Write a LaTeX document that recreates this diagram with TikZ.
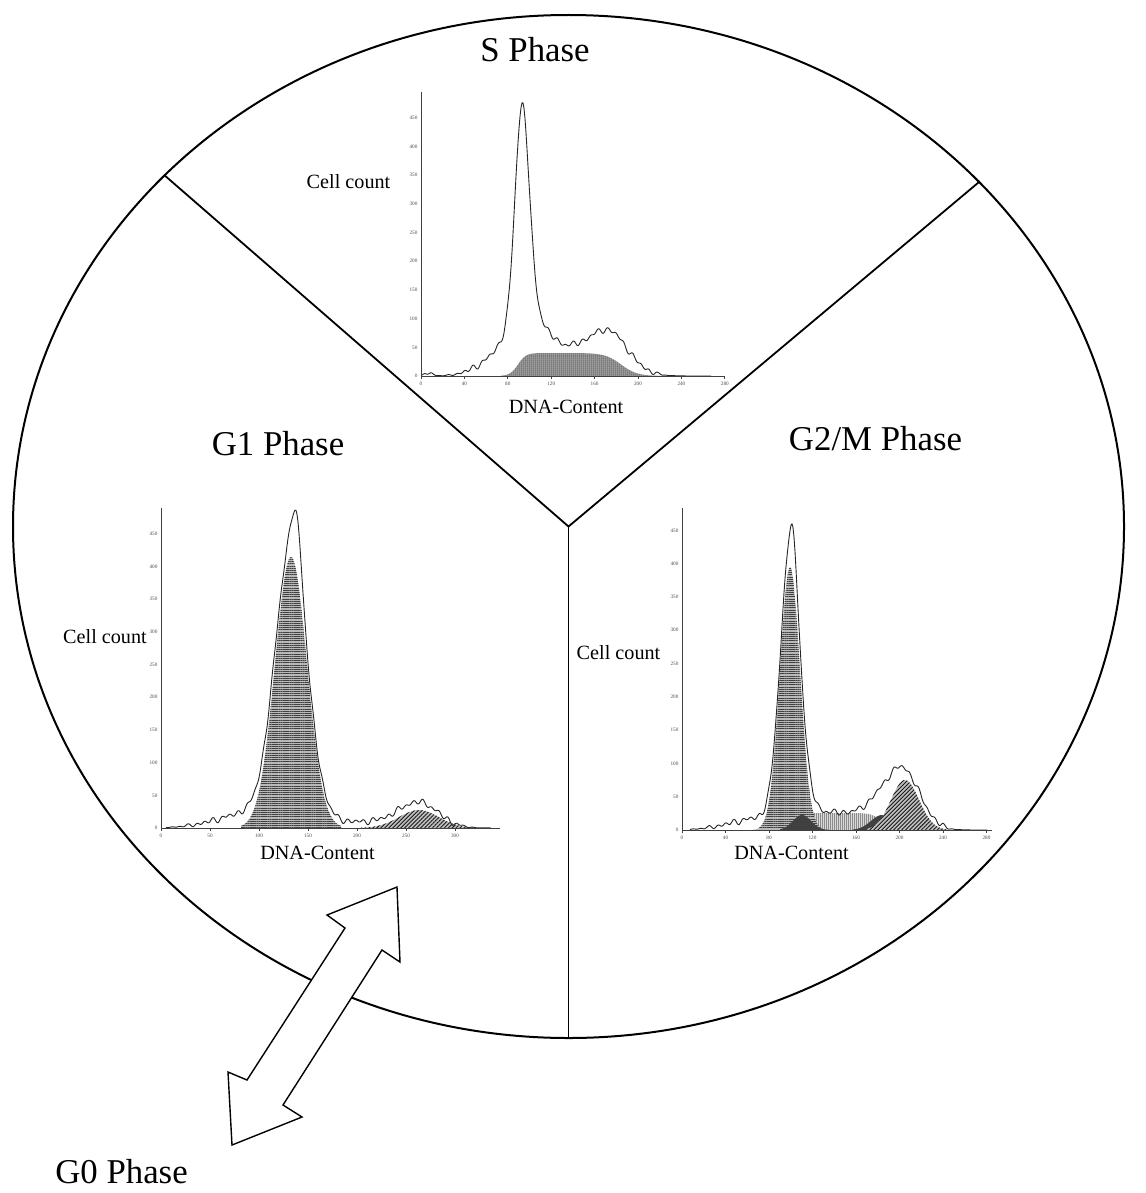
\documentclass[tikz,border=0pt]{standalone}
\usepackage{fontspec}
\setmainfont{Liberation Serif}
\usetikzlibrary{shapes.geometric,patterns.meta}

\begin{document}
\begin{tikzpicture}[
    x=0.5pt, y=-0.5pt,
    phase/.style={font=\fontsize{17.4}{20}\selectfont, anchor=base, inner sep=0},
    axlabel/.style={font=\fontsize{10.1}{12}\selectfont, anchor=base, inner sep=0},
    ticklab/.style={font=\fontsize{2.6}{3}\selectfont, inner sep=0.6pt, text=black!70},
    axis/.style={line width=0.35pt, black!75},
    trace/.style={line width=0.45pt, black!85, line join=round},
    divider/.style={line width=0.9pt},
    blockarrow/.style={draw, fill=white, line width=0.7pt},
    g1fill/.style={preaction={fill=gray!55}, pattern={Lines[angle=0, distance=1.1pt, line width=0.35pt]}, pattern color=black!75},
    sfill/.style={preaction={fill=gray!70}, pattern={Lines[angle=90, distance=0.9pt, line width=0.3pt]}, pattern color=black!85},
    g2fill/.style={preaction={fill=gray!50}, pattern={Lines[angle=45, distance=1.4pt, line width=0.45pt]}, pattern color=black!90},
    lightfill/.style={preaction={fill=gray!30}, pattern={Lines[angle=90, distance=1pt, line width=0.25pt]}, pattern color=black!45},
    darkfill/.style={fill=black!75},
    declare function={
      gs(\x,\m,\h,\s)=\h*exp(-min(0.5*((\x-\m)/\s)^2,12));
      rise(\x,\m,\s)=1/(1+exp(min(9,max(-9,(\m-\x)/\s))));
      jit(\x)=1.8*sin(\x*43)+1.2*sin(\x*29+40)+0.8*sin(\x*17+10);
      sfl(\x)=23*rise(\x,97,4)*(1-rise(\x,200,8));
      slin(\x)=1.2*sfl(\x)+gs(\x,101,200,7)+gs(\x,101,50,18)+gs(\x,68,10,18)+gs(\x,8,3,4)+gs(\x,192,24,20);
      gfl(\x)=gs(\x,130,271,16);
      ggt(\x)=gs(\x,258,18,20);
      glin(\x)=gfl(\x)+gs(\x,136,50,5)+gs(\x,95,16,35)+6*rise(\x,150,6)*(1-rise(\x,275,8))+1.15*ggt(\x);
      mfl(\x)=gs(\x,108,263,10);
      msp(\x)=17*rise(\x,105,4)*(1-rise(\x,200,5));
      mgt(\x)=gs(\x,223,50,14);
      mlin(\x)=mfl(\x)+gs(\x,111,27,3.5)+gs(\x,80,12,30)+msp(\x)+gs(\x,219,63,18);
    }
]
\useasboundingbox (0,0) rectangle (1145,1193);

% cell cycle wheel
\node[ellipse, draw, line width=1pt, minimum width=555.5pt, minimum height=511.5pt, inner sep=0] (cellcycle) at (568.5,526.5) {};
\draw[divider] (cellcycle.139.4) -- (cellcycle.center) -- (cellcycle.40.3);
\draw[divider] (cellcycle.center) -- (cellcycle.south);

% phase names
\node[phase] (sphase) at (535,62) {S Phase};
\node[phase] (g1phase) at (278,455) {G1 Phase};
\node[phase] (g2mphase) at (875.5,450) {G2/M Phase};
\node[phase] (g0phase) at (121.5,1183) {G0 Phase};

% S histogram
\begin{scope}[shift={(421,376)}, yscale=-1]
  \fill[sfill] (80,0) -- plot[domain=80:240, samples=161] (\x,{sfl(\x)}) -- (240,0) -- cycle;
  \draw[trace] plot[domain=0:290, samples=291] (\x,{slin(\x)+jit(\x)*min(1,slin(\x)/5)});
  \draw[axis] (0,284) -- (0,0) -- (304,0);
  \foreach \k [evaluate=\k as \v using int(\k*50)] in {0,...,9}
    \node[ticklab, anchor=east] (sy\k) at (-2,\k*28.7) {\v};
  \foreach \k [evaluate=\k as \v using int(\k*40)] in {0,...,7} {
    \draw[axis] (\k*43.4,0) -- (\k*43.4,-3);
    \node[ticklab, anchor=north] (sx\k) at (\k*43.4,-4) {\v};
  }
\end{scope}
\node[axlabel] (scount) at (348.5,188) {Cell count};
\node[axlabel] (sdna) at (566,413) {DNA-Content};

% G1 histogram
\begin{scope}[shift={(161,828)}, yscale=-1]
  \fill[g1fill] (80,0) -- plot[domain=80:180, samples=101] (\x,{gfl(\x)}) -- (180,0) -- cycle;
  \fill[g2fill] (200,0) -- plot[domain=200:315, samples=116] (\x,{ggt(\x)}) -- (315,0) -- cycle;
  \draw[trace] plot[domain=5:330, samples=326] (\x,{glin(\x)+jit(\x)*min(1,glin(\x)/5)});
  \draw[axis] (0,320) -- (0,0) -- (339,0);
  \foreach \k [evaluate=\k as \v using int(\k*50)] in {0,...,9}
    \node[ticklab, anchor=east] (gy\k) at (-2,\k*32.7) {\v};
  \foreach \k [evaluate=\k as \v using int(\k*50)] in {0,...,6} {
    \draw[axis] (\k*49,0) -- (\k*49,-3);
    \node[ticklab, anchor=north] (gx\k) at (\k*49,-4) {\v};
  }
\end{scope}
\node[axlabel] (g1count) at (105,643) {Cell count};
\node[axlabel] (g1dna) at (317.5,859) {DNA-Content};

% G2/M histogram
\begin{scope}[shift={(682,830)}, yscale=-1]
  \fill[lightfill] (90,0) -- plot[domain=90:215, samples=126] (\x,{msp(\x)}) -- (215,0) -- cycle;
  \fill[g1fill] (70,0) -- plot[domain=70:146, samples=77] (\x,{mfl(\x)}) -- (146,0) -- cycle;
  \fill[darkfill] (98,0) -- plot[domain=98:148, samples=51] (\x,{gs(\x,120,15,9)}) -- (148,0) -- cycle;
  \fill[darkfill] (170,0) -- plot[domain=170:235, samples=66] (\x,{gs(\x,200,15,11)}) -- (235,0) -- cycle;
  \fill[g2fill] (185,0) -- plot[domain=185:266, samples=82] (\x,{mgt(\x)}) -- (266,0) -- cycle;
  \draw[trace] plot[domain=8:305, samples=298] (\x,{mlin(\x)+jit(\x)*min(1,mlin(\x)/5)});
  \draw[axis] (0,322) -- (0,0) -- (310,0);
  \foreach \k [evaluate=\k as \v using int(\k*50)] in {0,...,9}
    \node[ticklab, anchor=east] (my\k) at (-2,\k*33.3) {\v};
  \foreach \k [evaluate=\k as \v using int(\k*40)] in {0,...,7} {
    \draw[axis] (\k*43.5,0) -- (\k*43.5,-3);
    \node[ticklab, anchor=north] (mx\k) at (\k*43.5,-4) {\v};
  }
\end{scope}
\node[axlabel] (g2mcount) at (618.5,659) {Cell count};
\node[axlabel] (g2mdna) at (791.5,859) {DNA-Content};

% G0 exchange arrow
\draw[blockarrow] (397,887) -- (400,962) -- (382,950) -- (283,1105) -- (302,1117) -- (232,1145)
  -- (228,1072) -- (247,1080) -- (345,928) -- (327,915) -- cycle;
\end{tikzpicture}
\end{document}
